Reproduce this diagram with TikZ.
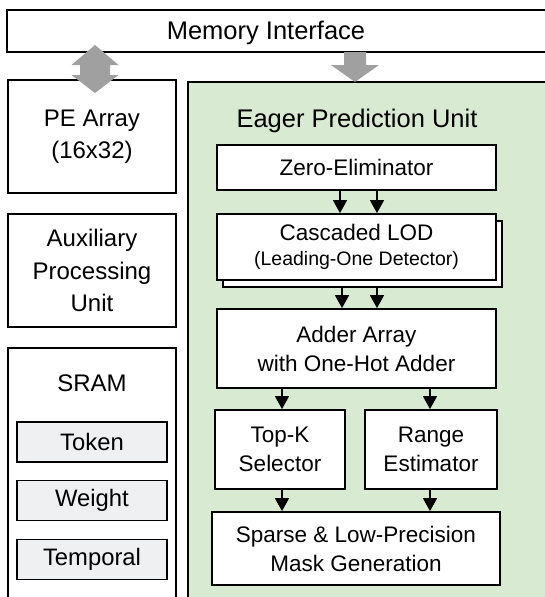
\documentclass[tikz,border=0pt]{standalone}
\usepackage{fontspec}
\setmainfont{Liberation Sans}
\usetikzlibrary{arrows.meta}
\definecolor{epgreen}{RGB}{217,234,211}
\definecolor{arrgray}{RGB}{160,160,160}
\definecolor{memfill}{RGB}{238,240,242}
\begin{document}
\begin{tikzpicture}[x=1pt,y=-1pt,
  boxline/.style={draw=black, line width=1.8pt},
  box/.style={boxline, fill=white, inner sep=0pt, align=center},
  title/.style={font=\fontsize{25.5}{32}\selectfont},
  big/.style={font=\fontsize{24}{32.5}\selectfont},
  mid/.style={font=\fontsize{22.5}{29}\selectfont},
  membox/.style={draw=black, line width=1.6pt, fill=memfill, inner sep=0pt,
    minimum width=150pt, minimum height=40pt, font=\fontsize{23.8}{28}\selectfont},
  flow/.style={-{Triangle[length=13pt,width=14pt]}, line width=1.6pt},
  gray arrow/.style={fill=arrgray}]
\useasboundingbox (0,0) rectangle (544,597);
% Memory interface
\draw[boxline, fill=white] (7,10) rectangle (570,52);
\node[title] (mem) at (266,32.5) {Memory Interface};
% Eager prediction unit background
\draw[boxline, fill=epgreen] (188,82) rectangle (570,630);
\node[title] (epu) at (357,121) {Eager Prediction Unit};
% left column
\node[box,big,minimum width=168pt,minimum height=113pt] (pe) at (92,136.5) {PE Array\\(16x32)};
\node[box,big,minimum width=168pt,minimum height=113pt] (aux) at (92,270.5) {Auxiliary\\Processing\\Unit};
\draw[boxline, fill=white] (8,348) rectangle (176,630);
\node[big] (sram) at (92,383) {SRAM};
\node[membox] (tok) at (92,442) {Token};
\node[membox] (wgt) at (92,500.5) {Weight};
\node[membox] (tmp) at (92,559.5) {Temporal};
% gray arrows
\coordinate (dA) at (95,45);
\fill[gray arrow] (dA) -- ++(-23.5,20) -- ++(8.5,0) -- ++(0,10) -- ++(-8.5,0)
  -- (95,93) -- ++(23.5,-18) -- ++(-8.5,0) -- ++(0,-10) -- ++(8.5,0) -- cycle;
\coordinate (dB) at (355,82);
\fill[gray arrow] (344,52) -- (344,65) -- (331,65) -- (dB) -- (379,65) -- (366,65) -- (366,52) -- cycle;
% inner blocks
\node[box,mid,minimum width=279pt,minimum height=45pt] (zero) at (356.5,167.5) {Zero-Eliminator};
\node[box,minimum width=279pt,minimum height=66pt] (lodsh) at (362.5,254) {};
\node[box,mid,minimum width=279pt,minimum height=66pt] (lod) at (356.5,247)
  {Cascaded LOD\\[-4pt]{\fontsize{19.5}{22}\selectfont (Leading-One Detector)}};
\node[box,mid,minimum width=279pt,minimum height=79pt] (adder) at (356.5,348.5) {Adder Array\\with One-Hot Adder};
\node[box,mid,minimum width=130pt,minimum height=79pt] (topk) at (280,449.5) {Top-K\\Selector};
\node[box,mid,minimum width=132pt,minimum height=79pt] (range) at (431,449.5) {Range\\Estimator};
\node[box,mid,minimum width=288pt,minimum height=73pt] (sparse) at (356,548.5) {Sparse \& Low-Precision\\Mask Generation};
% connectors
\coordinate (c340) at (340,0);
\coordinate (c377) at (377,0);
\coordinate (c342) at (342,0);
\coordinate (c282) at (282,0);
\coordinate (c430) at (430,0);
\draw[flow] (c340 |- zero.south) -- (c340 |- lod.north);
\draw[flow] (c377 |- zero.south) -- (c377 |- lod.north);
\draw[flow] (c342 |- lodsh.south) -- (c342 |- adder.north);
\draw[flow] (c377 |- lodsh.south) -- (c377 |- adder.north);
\draw[flow] (c282 |- adder.south) -- (c282 |- topk.north);
\draw[flow] (c430 |- adder.south) -- (c430 |- range.north);
\draw[flow] (c282 |- topk.south) -- (c282 |- sparse.north);
\draw[flow] (c430 |- range.south) -- (c430 |- sparse.north);
\end{tikzpicture}
\end{document}
